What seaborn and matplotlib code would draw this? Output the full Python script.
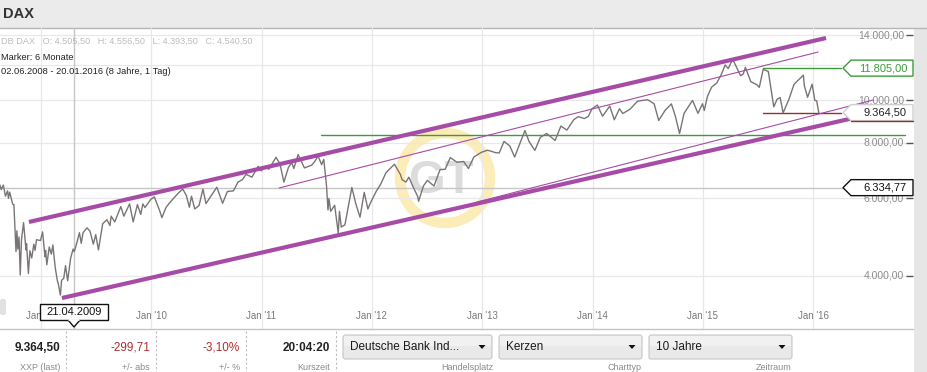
import numpy as np
import pandas as pd
import matplotlib
matplotlib.use("Agg")
import matplotlib.pyplot as plt
from matplotlib.patches import Rectangle, Polygon, FancyBboxPatch, Circle
from matplotlib.ticker import NullLocator
import seaborn as sns

sns.set_style("white")
plt.rcParams['font.family'] = ['Liberation Sans', 'DejaVu Sans']

# ---------- data ----------
dax_dates = [
    "2008-08-18", "2008-08-22", "2008-08-29", "2008-09-05", "2008-09-12", "2008-09-15", "2008-09-19",
    "2008-09-29", "2008-10-03", "2008-10-10", "2008-10-13", "2008-10-16", "2008-10-20", "2008-10-24",
    "2008-10-28", "2008-11-04", "2008-11-12", "2008-11-14", "2008-11-20", "2008-11-25", "2008-12-01",
    "2008-12-08", "2008-12-12", "2008-12-17", "2008-12-30",
    "2009-01-06", "2009-01-14", "2009-01-16", "2009-01-20", "2009-01-28", "2009-02-04", "2009-02-09",
    "2009-02-17", "2009-02-24", "2009-02-27", "2009-03-06", "2009-03-10", "2009-03-17", "2009-03-23",
    "2009-03-30", "2009-04-09", "2009-04-17", "2009-04-21", "2009-04-30", "2009-05-08", "2009-05-14",
    "2009-05-20", "2009-06-02", "2009-06-12", "2009-06-23", "2009-07-01", "2009-07-10", "2009-07-24",
    "2009-08-07", "2009-08-17", "2009-08-21", "2009-09-02", "2009-09-22", "2009-10-02", "2009-10-21",
    "2009-11-02", "2009-11-16", "2009-11-27", "2009-12-04", "2009-12-11", "2009-12-30",
    "2010-01-11", "2010-01-29", "2010-02-05", "2010-02-19", "2010-03-05", "2010-03-31", "2010-04-15",
    "2010-04-27", "2010-05-07", "2010-05-14", "2010-05-25", "2010-06-08", "2010-06-21", "2010-07-01",
    "2010-07-16", "2010-08-06", "2010-08-25", "2010-09-10", "2010-09-30", "2010-10-15", "2010-10-29",
    "2010-11-11", "2010-11-30", "2010-12-21", "2010-12-31",
    "2011-01-14", "2011-01-25", "2011-02-18", "2011-03-03", "2011-03-16", "2011-03-31", "2011-04-11",
    "2011-04-18", "2011-05-02", "2011-05-23", "2011-06-08", "2011-06-16", "2011-06-28", "2011-07-07",
    "2011-07-19", "2011-07-26", "2011-08-04", "2011-08-09", "2011-08-12", "2011-08-18", "2011-08-31",
    "2011-09-12", "2011-09-16", "2011-09-22", "2011-10-04", "2011-10-27", "2011-11-09", "2011-11-23",
    "2011-12-07", "2011-12-19", "2011-12-30",
    "2012-01-16", "2012-01-31", "2012-02-17", "2012-03-16", "2012-04-05", "2012-04-10", "2012-04-23",
    "2012-05-03", "2012-05-15", "2012-06-01", "2012-06-04", "2012-06-20", "2012-07-03", "2012-07-25",
    "2012-08-14", "2012-08-31", "2012-09-17", "2012-10-09", "2012-10-31", "2012-11-16", "2012-12-04",
    "2012-12-28",
    "2013-01-18", "2013-02-04", "2013-02-14", "2013-02-26", "2013-03-14", "2013-04-02", "2013-04-18",
    "2013-05-22", "2013-06-05", "2013-06-24", "2013-07-12", "2013-08-02", "2013-08-30", "2013-09-18",
    "2013-10-08", "2013-10-31", "2013-11-15", "2013-12-05", "2013-12-18", "2013-12-30",
    "2014-01-17", "2014-02-03", "2014-02-27", "2014-03-14", "2014-03-31", "2014-04-11", "2014-05-05",
    "2014-05-30", "2014-06-20", "2014-07-03", "2014-07-24", "2014-08-08", "2014-08-29", "2014-09-19",
    "2014-10-02", "2014-10-16", "2014-10-31", "2014-11-28", "2014-12-16", "2014-12-31",
    "2015-01-06", "2015-01-16", "2015-01-30", "2015-02-16", "2015-03-03", "2015-03-16", "2015-03-26",
    "2015-04-10", "2015-04-24", "2015-05-06", "2015-05-15", "2015-05-22", "2015-06-09", "2015-06-29",
    "2015-07-07", "2015-07-20", "2015-08-06", "2015-08-24", "2015-09-04", "2015-09-14", "2015-09-24",
    "2015-10-13", "2015-10-30", "2015-11-30", "2015-12-03", "2015-12-14", "2015-12-29",
    "2016-01-07", "2016-01-13", "2016-01-20",
]
dax_close = [
    6420, 6270, 6420, 6060, 6230, 5990, 6190,
    5810, 5800, 4540, 5060, 4600, 4900, 4020,
    4820, 5280, 4580, 4730, 4050, 4560, 4390,
    4720, 4570, 4830, 4810,
    5030, 4420, 4570, 4240, 4650, 4480, 4700,
    4170, 3900, 3840, 3620, 3910, 3950, 4220,
    3900, 4390, 4600, 4540, 4770, 5010, 4740,
    5010, 5140, 5050, 4720, 4960, 4580, 5250,
    5360, 5200, 5460, 5300, 5740, 5460, 5820,
    5300, 5800, 5510, 5820, 5710, 5957,
    6040, 5608, 5420, 5720, 5880, 6154, 6290,
    6080, 5720, 6060, 5670, 5770, 6290, 5830,
    6040, 6350, 5840, 6210, 6230, 6520, 6600,
    6790, 6690, 7080, 6914,
    7080, 6970, 7420, 7170, 6520, 7040, 7220,
    7000, 7530, 7020, 7090, 7120, 7290, 7470,
    7140, 7340, 6410, 5640, 5990, 5600, 5780,
    5000, 5600, 5160, 5220, 6340, 5830, 5430,
    6180, 5670, 5898,
    6220, 6458, 6850, 7157, 6780, 6610, 6520,
    6690, 6400, 6050, 5900, 6390, 6580, 6390,
    6960, 6970, 7410, 7230, 7260, 7000, 7430,
    7610,
    7700, 7640, 7600, 7590, 8060, 7870, 7430,
    8530, 8050, 7690, 8230, 8400, 8100, 8730,
    8550, 9030, 9170, 9080, 9180, 9552,
    9740, 9190, 9690, 9020, 9556, 9320, 9530,
    9940, 9990, 10010, 9800, 8990, 9470, 9800,
    9200, 8400, 9330, 9980, 9330, 9806,
    9470, 10170, 10690, 10920, 11410, 12000, 11780,
    12370, 11810, 11350, 11450, 11860, 11000, 10830,
    10680, 11730, 11600, 9650, 10040, 10130, 9350,
    10030, 10850, 11382, 10790, 10140, 10860,
    9980, 9960, 9364.5,
]

y_levels = [4000, 6000, 8000, 10000, 12000, 14000]
y_labels = ["4.000,00", "6.000,00", "8.000,00", "10.000,00", "", "14.000,00"]
year_ticks = ["2009-01-01", "2010-01-01", "2011-01-01", "2012-01-01",
              "2013-01-01", "2014-01-01", "2015-01-01", "2016-01-01"]
year_labels = ["Jan '09", "Jan '10", "Jan '11", "Jan '12", "Jan '13", "Jan '14", "Jan '15", "Jan '16"]

# trend channel (drawn by hand on the chart)
upper_thick_dates = ["2008-11-22", "2016-02-13"]
upper_thick_vals = [5298, 13811]
lower_thick_dates = ["2009-03-11", "2016-05-29"]
lower_thick_vals = [3565, 9153]
upper_thin_dates = ["2011-02-28", "2016-01-18"]
upper_thin_vals = [6324, 12840]
lower_thin_dates = ["2012-12-15", "2016-07-18"]
lower_thin_vals = [5879, 10000]

support_level = 8355
support_dates = ["2011-07-17", "2016-11-01"]
resist_level = 11805
last_level = 9364.5
marker_dates = ["2015-07-18", "2016-04-01"]
cross_date = "2009-04-21"
cross_level = 6334.77

purple = "#a64ca6"
green = "#3c9c3c"
darkred = "#9e2a2a"
W, H = 927, 372

fig = plt.figure(figsize=(W / 100, H / 100), dpi=100)

# ---------- background layer in pixel coords ----------
bg = fig.add_axes([0, 0, 1, 1], zorder=0)
bg.set_xlim(0, W); bg.set_ylim(H, 0); bg.axis('off')
bg.add_patch(Rectangle((0, 0), W, 28, fc="#ebebeb", ec="none"))
bg.plot([0, W], [28, 28], color="#b5b5b5", lw=1)
bg.add_patch(Rectangle((914, 28), 13, H - 28, fc="#e6e6e6", ec="none"))
bg.text(3, 14, "DAX", fontsize=10.5, fontweight="bold", color="#333333", va="center", ha="left")

# watermark
bg.add_patch(Circle((445, 178), 45, fc="none", ec="#fcecb8", lw=7.5))
bg.text(441, 181, "GT", fontsize=34, fontweight="bold", color="#dcdcdc", ha="center", va="center")

# ---------- chart ----------
ax = fig.add_axes([0, 1 - 329 / H, 913 / W, 301 / H], zorder=1)
ax.set_facecolor("none")
df = pd.DataFrame({"date": pd.to_datetime(dax_dates), "close": dax_close})
sns.lineplot(data=df, x="date", y="close", ax=ax, color="#7a7575", linewidth=1.0, zorder=4)

ax.set_yscale("log")
ax.set_xlim(pd.Timestamp("2008-08-18"), pd.Timestamp("2016-11-27"))
ax.set_ylim(3034, 14550)
ax.yaxis.set_minor_locator(NullLocator())
ax.set_yticks(y_levels)
ax.set_xticks(pd.to_datetime(year_ticks))
ax.grid(True, color="#e8e8e8", lw=0.9, zorder=0)
ax.yaxis.tick_right()
ax.tick_params(axis="y", direction="in", length=5, width=1, color="#555555",
               labelright=False, labelleft=False)
ax.tick_params(axis="x", direction="in", length=5, width=1, color="#333333", labelbottom=False)
ax.set_xlabel(""); ax.set_ylabel("")
for s in ax.spines.values():
    s.set_visible(False)

ax.axvline(pd.Timestamp(cross_date), color="#c6c6c6", lw=1, zorder=1)
ax.axhline(cross_level, color="#c6c6c6", lw=1, zorder=1)

ax.plot(pd.to_datetime(upper_thick_dates), upper_thick_vals, color=purple, lw=3, zorder=5, solid_capstyle="butt")
ax.plot(pd.to_datetime(lower_thick_dates), lower_thick_vals, color=purple, lw=3, zorder=5, solid_capstyle="butt")
ax.plot(pd.to_datetime(upper_thin_dates), upper_thin_vals, color=purple, lw=0.8, zorder=5)
ax.plot(pd.to_datetime(lower_thin_dates), lower_thin_vals, color=purple, lw=0.8, zorder=5)

ax.plot(pd.to_datetime(support_dates), [support_level] * 2, color=green, lw=1, zorder=3)
ax.plot(pd.to_datetime(marker_dates), [resist_level] * 2, color=green, lw=1, zorder=3)
ax.plot(pd.to_datetime(marker_dates), [last_level] * 2, color=darkred, lw=1, zorder=3)

for v, l in zip(y_levels, y_labels):
    if l:
        ax.text(904 / 913, v, l, transform=ax.get_yaxis_transform(), ha="right", va="center",
                fontsize=7.5, color="#8c8c8c")
for d, l in zip(year_ticks, year_labels):
    ax.text(pd.Timestamp(d), 13 / 301, l, transform=ax.get_xaxis_transform(), ha="center",
            va="center", fontsize=7, color="#7a7a7a")

# ---------- overlay layer ----------
top = fig.add_axes([0, 0, 1, 1], zorder=2)
top.set_xlim(0, W); top.set_ylim(H, 0); top.axis('off')
top.patch.set_visible(False)

top.plot([0, 913], [329, 329], color="#c4c4c4", lw=1)
top.text(1, 41, "DB DAX   O: 4.505,50   H: 4.556,50   L: 4.393,50   C: 4.540,50",
         fontsize=6.6, color="#bdbdbd", va="center")
top.text(1, 57, "Marker: 6 Monate", fontsize=6.7, color="#222222", va="center")
top.text(1, 72, "02.06.2008 - 20.01.2016 (8 Jahre, 1 Tag)", fontsize=6.7, color="#222222", va="center")


def level_y(val):
    disp = ax.transData.transform((ax.get_xlim()[0], val))
    return top.transData.inverted().transform(disp)[1]


def price_box(val, text, ec, tc):
    yc = level_y(val)
    pts = [(843, yc), (851, yc - 8), (913, yc - 8), (913, yc + 8), (851, yc + 8)]
    top.add_patch(Polygon(pts, closed=True, fc="white", ec=ec, lw=1))
    top.text(907, yc, text, fontsize=8, color=tc, ha="right", va="center")
    return yc


price_box(resist_level, "11.805,00", green, green)
yl = price_box(last_level, "9.364,50", "#cfcfcf", "#222222")
top.plot([851, 913], [yl + 8, yl + 8], color=darkred, lw=1)
price_box(cross_level, "6.334,77", "#111111", "#111111")

# date tooltip
top.add_patch(Rectangle((40, 304), 68, 16, fc="white", ec="#111111", lw=1, zorder=3))
top.add_patch(Polygon([(68, 320), (74, 327), (80, 320)], closed=False, fc="white", ec="#111111", lw=1, zorder=4))
top.plot([69, 79], [320, 320], color="white", lw=1.2, zorder=5)
top.text(74, 312, "21.04.2009", fontsize=8, ha="center", va="center", color="#111111", zorder=6)
top.add_patch(FancyBboxPatch((0, 299), 6, 16, boxstyle="round,pad=0,rounding_size=2",
                             fc="#e2e2e2", ec="none"))

# ---------- bottom toolbar ----------
for xs in [66, 156, 246, 336]:
    top.plot([xs, xs], [331, 372], color="#bdbdbd", lw=0.8, ls=(0, (2, 2)))

top.text(60, 348, "9.364,50", fontsize=8.5, fontweight="bold", color="#222222", ha="right", va="center")
top.text(150, 348, "-299,71", fontsize=8.5, color="#b22e2e", ha="right", va="center")
top.text(240, 348, "-3,10%", fontsize=8.5, color="#b22e2e", ha="right", va="center")
top.text(330, 348, "20:04:20", fontsize=8.5, fontweight="bold", color="#222222", ha="right", va="center")
for x, t in [(60, "XXP (last)"), (150, "+/- abs"), (240, "+/- %"), (330, "Kurszeit"),
             (493, "Handelsplatz"), (642, "Charttyp"), (792, "Zeitraum")]:
    top.text(x, 367, t, fontsize=6.5, color="#8a8a8a", ha="right", va="center")

for x0, x1, t in [(343, 492, "Deutsche Bank Ind..."), (499, 642, "Kerzen"), (649, 792, "10 Jahre")]:
    top.add_patch(FancyBboxPatch((x0, 335), x1 - x0, 24, boxstyle="round,pad=0,rounding_size=2.5",
                                 fc="#e9e9e9", ec="#c6c6c6", lw=0.8))
    top.add_patch(Rectangle((x0 + 1, 336), x1 - x0 - 2, 10, fc="#f1f1f1", ec="none"))
    top.text(x0 + 7, 347, t, fontsize=8.5, color="#1a1a1a", ha="left", va="center")
    tx = x1 - 10
    top.add_patch(Polygon([(tx - 3.5, 345), (tx + 3.5, 345), (tx, 349)], closed=True, fc="#111111", ec="none"))

fig.savefig("out.png", dpi=100)
